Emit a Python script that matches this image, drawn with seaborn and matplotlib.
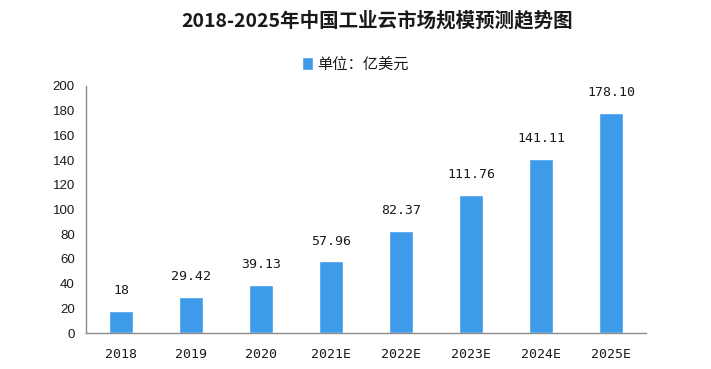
import matplotlib
matplotlib.use("Agg")
import matplotlib.pyplot as plt
import seaborn as sns
import pandas as pd
import numpy as np

years = ["2018", "2019", "2020", "2021E", "2022E", "2023E", "2024E", "2025E"]
values = [18, 29.42, 39.13, 57.96, 82.37, 111.76, 141.11, 178.10]
value_labels = ["18", "29.42", "39.13", "57.96", "82.37", "111.76", "141.11", "178.10"]
y_ticks = [0, 20, 40, 60, 80, 100, 120, 140, 160, 180, 200]
title = "2018-2025年中国工业云市场规模预测趋势图"
legend_label = "单位：亿美元"

sns.set_theme(style="white")
plt.rcParams['font.family'] = ['Noto Sans CJK SC', 'DejaVu Sans']

df = pd.DataFrame({"year": years, "value": values})
bar_color = "#3d9bea"
axis_color = "#8c8c8c"
text_color = "#1a1a1a"

fig = plt.figure(figsize=(7.11, 3.69), dpi=100)
ax = fig.add_axes([86/711, 36/369, 560/711, 247/369])

sns.barplot(data=df, x="year", y="value", color=bar_color, width=0.35,
            saturation=1, ax=ax, label=legend_label)

ax.set_xlim(-0.5, len(years) - 0.5)
ax.set_ylim(0, 200)
ax.set_yticks(y_ticks)
ax.set_yticklabels([str(t) for t in y_ticks], fontsize=9.5, color=text_color,
                   family=['Liberation Sans', 'DejaVu Sans'])
ax.set_xticks(range(len(years)))
ax.set_xticklabels(years, fontsize=9.5, color=text_color,
                   family=['DejaVu Sans Mono', 'DejaVu Sans'])
ax.set_xlabel("")
ax.set_ylabel("")
ax.tick_params(axis='x', which='major', length=0, pad=11)
ax.set_xticks(np.arange(-0.5, len(years), 1.0), minor=True)
ax.tick_params(axis='x', which='minor', length=5, color=axis_color, width=1, direction='out')
ax.tick_params(axis='y', which='major', length=5, color=axis_color, width=1, direction='out', pad=3)

for s in ["top", "right"]:
    ax.spines[s].set_visible(False)
for s in ["left", "bottom"]:
    ax.spines[s].set_color(axis_color)
    ax.spines[s].set_linewidth(1)

for i, (v, lab) in enumerate(zip(values, value_labels)):
    ax.annotate(lab, (i, v), xytext=(0, 10), textcoords="offset points",
                ha="center", va="bottom", fontsize=9.5, color=text_color,
                family=['DejaVu Sans Mono', 'DejaVu Sans'])

fig.text(377/711, 1 - 21/369, title, ha="center", va="center", fontsize=14,
         fontweight="bold", color=text_color)

handles, labels = ax.get_legend_handles_labels()
leg = fig.legend(handles[:1], labels[:1], loc="center", bbox_to_anchor=(0.5, 1 - 64/369),
                 frameon=False, fontsize=11, handlelength=0.7, handleheight=0.9,
                 handletextpad=0.3)
for t in leg.get_texts():
    t.set_color(text_color)
if ax.get_legend() is not None:
    ax.get_legend().remove()

fig.savefig("out.png", dpi=100)
